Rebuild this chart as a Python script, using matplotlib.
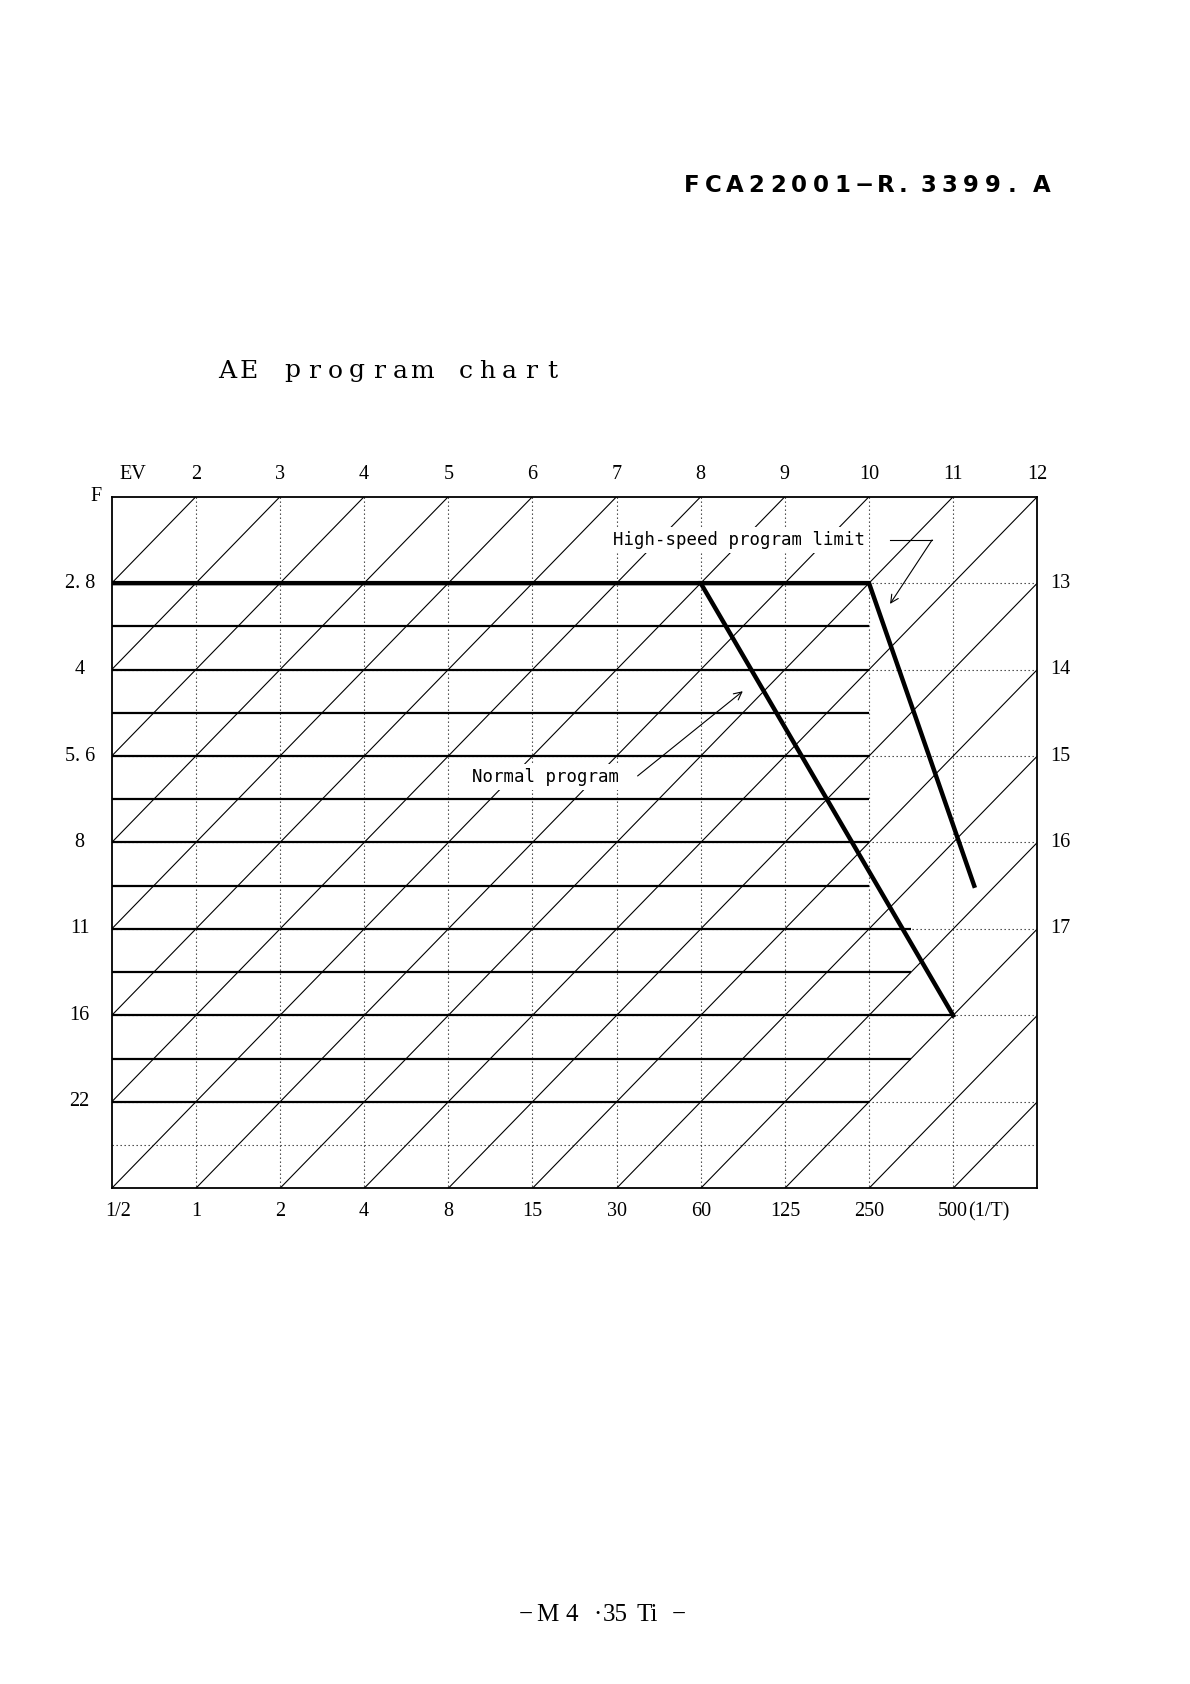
import matplotlib.pyplot as plt

# shutter speeds along the bottom, one per TV step (right edge is TV 10)
shutter_labels = ["1/2", "1", "2", "4", "8", "15", "30", "60", "125", "250", "500"]
shutter_tv = [-1, 0, 1, 2, 3, 4, 5, 6, 7, 8, 9]

# f-numbers on the left, one per AV step
f_labels = ["2. 8", "4", "5. 6", "8", "11", "16", "22"]
f_av = [3, 4, 5, 6, 7, 8, 9]

# EV numbers along the top edge (AV 2) and the right edge (TV 10)
ev_top = [2, 3, 4, 5, 6, 7, 8, 9, 10, 11, 12]
ev_right = [13, 14, 15, 16, 17]

# EV diagonals inside the chart
ev_lines = list(range(2, 20))

# half-stop aperture rows and the TV where each one ends
row_av = [3, 3.5, 4, 4.5, 5, 5.5, 6, 6.5, 7, 7.5, 8, 8.5, 9]
row_end = [8, 8, 8, 8, 8, 8, 8, 8, 8.5, 8.5, 9, 8.5, 8]

# dotted grid
grid_tv = [0, 1, 2, 3, 4, 5, 6, 7, 8, 9]
grid_av = [3, 4, 5, 6, 7, 8, 9, 9.5]

# program lines as (TV, AV)
normal_tv = [-1, 6, 9]
normal_av = [3, 3, 8]
limit_tv = [6, 8, 9.25]
limit_av = [3, 3, 6.5]

W, H = 1190, 1684
fig = plt.figure(figsize=(W / 100, H / 100), dpi=100)
fig.patch.set_facecolor("white")


def fx(x):
    return x / W


def fy(y):
    return 1 - y / H


serif = ["Liberation Serif", "DejaVu Serif"]
mono = ["DejaVu Sans Mono"]

# chart frame: TV -1..10 across, AV 2..10 down
ax = fig.add_axes([fx(111.7), fy(1188.3), (1037.3 - 111.7) / W, (1188.3 - 496.7) / H])
ax.set_xlim(-1, 10)
ax.set_ylim(10, 2)
ax.set_xticks([])
ax.set_yticks([])
for s in ax.spines.values():
    s.set_linewidth(1.3)

dot = (0, (1.2, 2.4))
ax.vlines(grid_tv, 2, 10, color="#333333", lw=0.8, linestyles=[dot])
ax.hlines(grid_av, -1, 10, color="#333333", lw=0.8, linestyles=[dot])

for ev in ev_lines:
    ax.plot([ev - 10, ev - 2], [10, 2], color="black", lw=0.8)

ax.hlines(row_av, -1, row_end, color="black", lw=1.6)

ax.plot(normal_tv, normal_av, color="black", lw=3.2, solid_joinstyle="miter")
ax.plot(limit_tv, limit_av, color="black", lw=3.2, solid_joinstyle="miter")

# annotations
ax.text(6.45, 2.5, "High-speed program limit", family=mono, fontsize=12.5,
        ha="center", va="center", zorder=6,
        bbox=dict(fc="white", ec="none", pad=3))
ax.plot([8.25, 8.75], [2.5, 2.5], color="black", lw=0.8)
ax.annotate("", xy=(8.25, 3.24), xytext=(8.75, 2.5),
            arrowprops=dict(arrowstyle="->", lw=0.8, color="black",
                            shrinkA=0, shrinkB=0, mutation_scale=14))

ax.text(4.15, 5.24, "Normal program", family=mono, fontsize=12.5,
        ha="center", va="center", zorder=6,
        bbox=dict(fc="white", ec="none", pad=3))
ax.annotate("", xy=(6.5, 4.25), xytext=(5.25, 5.23),
            arrowprops=dict(arrowstyle="->", lw=0.8, color="black",
                            shrinkA=0, shrinkB=0, mutation_scale=14))

# axis labels
lab = dict(family=serif, fontsize=14.5, va="center")
ax.text(-0.75, 1.74, "EV", ha="center", **lab)
ax.text(-1.19, 2.0, "F", ha="center", **lab)
for ev in ev_top:
    ax.text(ev - 2, 1.74, str(ev), ha="center", **lab)
for av, t in zip(f_av, f_labels):
    ax.text(-1.38, av, t, ha="center", **lab)
for ev in ev_right:
    ax.text(10.27, ev - 10, str(ev), ha="center", **lab)
for tv, t in zip(shutter_tv, shutter_labels):
    if tv == -1:
        ax.text(tv - 0.08, 10.27, t, ha="left", **lab)
    else:
        ax.text(tv, 10.27, t, ha="center", **lab)
ax.text(9.18, 10.27, "(1/T)", ha="left", **lab)

# page header, title and footer
header = "FCA22001−R.3399.A"
slots = [0, 1, 2, 3, 4, 5, 6, 7, 8, 9, 9.85, 11, 12, 13, 14, 14.9, 16.3]
for ch, k in zip(header, slots):
    fig.text(fx(691.7 + 21.5 * k), fy(185), ch, family=["DejaVu Sans"],
             weight="bold", fontsize=16.5, ha="center", va="center")

title = "AE program chart"
for i, ch in enumerate(title):
    fig.text(fx(227 + 21.7 * i), fy(371), ch, family=["DejaVu Serif"],
             fontsize=18, ha="center", va="center")

footer = [("−", 526), ("M", 547.5), ("4", 572), ("·", 597),
          ("35", 615.5), ("Ti", 647), ("−", 678.5)]
for t, x in footer:
    fig.text(fx(x), fy(1615), t, family=serif, fontsize=18,
             ha="center", va="center")

fig.savefig("out.png", dpi=100, facecolor="white")
